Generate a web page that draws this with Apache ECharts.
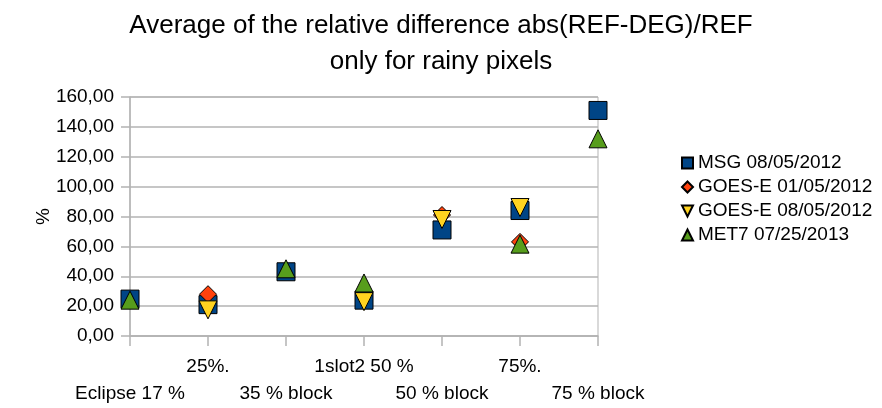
<!DOCTYPE html>
<html>
<head>
<meta charset="utf-8">
<script src="https://cdn.jsdelivr.net/npm/echarts@6/dist/echarts.min.js"></script>
<style>
  html, body { margin: 0; padding: 0; background: #fff; }
  #chart { width: 882px; height: 408px; }
</style>
</head>
<body>
<div id="chart"></div>
<script>
// Categories along the x axis
const categories = ['Eclipse 17 %', '25%.', '35 % block', '1slot2 50 %', '50 % block', '75%.', '75 % block'];

// Series values (%), null where a satellite has no measurement
const msg0805 = [24.7, 21, 43, 24, 71, 84, 151];
const goesE0105 = [null, 28, null, null, 81, 63, null];
const goesE0805 = [null, 17.5, null, 23, 78, 86, null];
const met70725 = [24, null, 45, 35.5, null, 61.5, 132];

// Y axis range
const yMin = 0, yMax = 160, yStep = 20;

const FONT = '"Liberation Sans", Arial, sans-serif';
const GRID = '#b3b3b3';
const DOWN_TRIANGLE = 'path://M0,0L20,0L10,20Z';

const chart = echarts.init(document.getElementById('chart'), null, { renderer: 'canvas' });

function seriesOf(name, data, symbol, size, color, rotate) {
  return {
    name: name,
    type: 'scatter',
    data: data,
    symbol: symbol,
    symbolSize: size,
    symbolRotate: rotate || 0,
    itemStyle: { color: color, borderColor: '#000', borderWidth: 1, opacity: 1 },
    emphasis: { disabled: true }
  };
}

chart.setOption({
  animation: false,
  backgroundColor: '#fff',
  title: {
    text: 'Average of the relative difference abs(REF-DEG)/REF\nonly for rainy pixels',
    left: 'center',
    top: 3,
    textStyle: { fontFamily: FONT, fontSize: 26, fontWeight: 'normal', color: '#000', lineHeight: 36 }
  },
  legend: {
    orient: 'vertical',
    left: 676,
    top: 148,
    itemWidth: 11,
    itemHeight: 11,
    itemGap: 4,
    textStyle: { fontFamily: FONT, fontSize: 19, color: '#000', lineHeight: 20 },
    data: [
      { name: 'MSG 08/05/2012', icon: 'rect' },
      { name: 'GOES-E 01/05/2012', icon: 'diamond' },
      { name: 'GOES-E 08/05/2012', icon: DOWN_TRIANGLE },
      { name: 'MET7 07/25/2013', icon: 'triangle' }
    ]
  },
  grid: {
    left: 130, right: 284, top: 97, bottom: 72,
    show: true, borderColor: GRID, borderWidth: 1
  },
  xAxis: {
    type: 'category',
    data: categories,
    boundaryGap: false,
    axisLine: { lineStyle: { color: GRID, width: 1.5 } },
    axisTick: { show: true, length: 10, lineStyle: { color: GRID, width: 1.5 } },
    splitLine: { show: false },
    axisLabel: {
      interval: 0,
      hideOverlap: false,
      margin: 17,
      fontFamily: FONT, fontSize: 19, color: '#000', lineHeight: 27,
      formatter: function (value, idx) { return idx % 2 === 0 ? '\n' + value : value; }
    }
  },
  yAxis: {
    type: 'value',
    min: yMin, max: yMax, interval: yStep,
    name: '%',
    nameLocation: 'middle',
    nameGap: 77,
    nameMoveOverlap: false,
    nameRotate: 90,
    nameTextStyle: { fontFamily: FONT, fontSize: 19, color: '#000' },
    axisLine: { show: true, lineStyle: { color: GRID, width: 1.5 } },
    axisTick: { show: true, length: 9, lineStyle: { color: GRID, width: 1.5 } },
    splitLine: { show: true, lineStyle: { color: GRID, width: 1.5 } },
    axisLabel: {
      margin: 16,
      fontFamily: FONT, fontSize: 19, color: '#000',
      formatter: function (v) { return v.toFixed(2).replace('.', ','); }
    }
  },
  series: [
    seriesOf('MSG 08/05/2012', msg0805, 'rect', 18, '#004586'),
    seriesOf('GOES-E 01/05/2012', goesE0105, 'diamond', 17, '#ff420e'),
    seriesOf('GOES-E 08/05/2012', goesE0805, 'triangle', 18, '#ffd320', 180),
    seriesOf('MET7 07/25/2013', met70725, 'triangle', 18, '#579d1c')
  ]
});
</script>
</body>
</html>
